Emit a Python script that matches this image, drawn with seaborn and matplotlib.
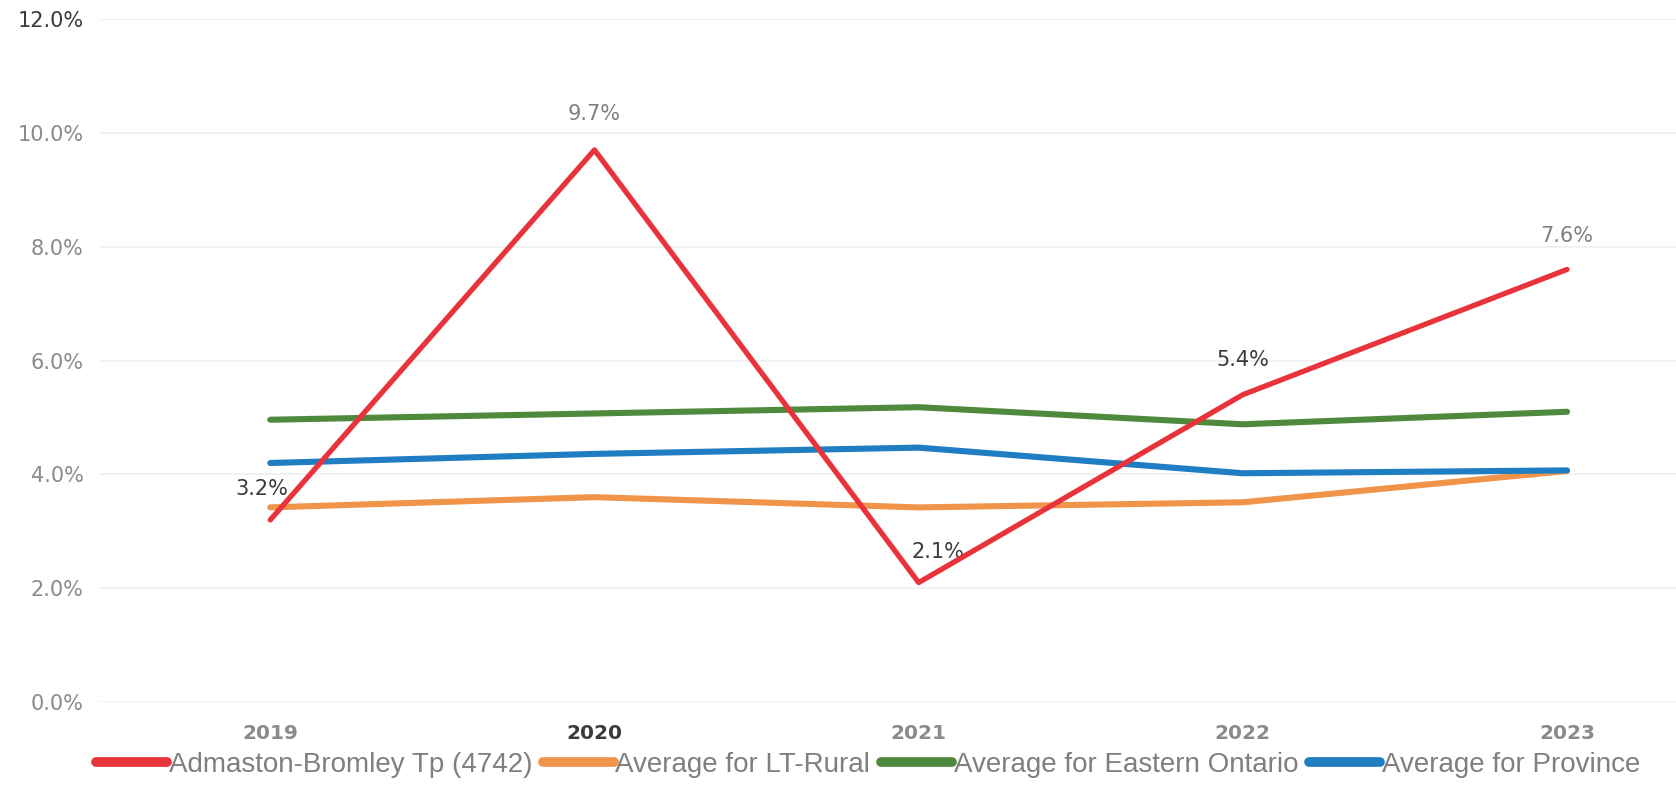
import matplotlib
matplotlib.use("Agg")
import matplotlib.pyplot as plt
import seaborn as sns
import pandas as pd

years = ["2019", "2020", "2021", "2022", "2023"]
admaston = [3.2, 9.7, 2.1, 5.4, 7.6]
lt_rural = [3.42, 3.60, 3.42, 3.51, 4.06]
eastern_ontario = [4.96, 5.07, 5.18, 4.88, 5.10]
province = [4.20, 4.36, 4.47, 4.02, 4.07]

series_names = [
    "Admaston-Bromley Tp (4742)",
    "Average for LT-Rural",
    "Average for Eastern Ontario",
    "Average for Province",
]
series_values = [admaston, lt_rural, eastern_ontario, province]
colors = ["#E8333A", "#F0944A", "#4F8A3C", "#1F7DC1"]
label_colors = ["#3a3a3a", "#808080", "#3a3a3a", "#3a3a3a", "#808080"]
label_offsets = [(-6, 22), (0, 26), (14, 22), (0, 25), (0, 24)]

rows = []
for name, vals in zip(series_names, series_values):
    for yr, v in zip(years, vals):
        rows.append({"Year": yr, "Value": v, "Series": name})
df = pd.DataFrame(rows)

sns.set_theme(style="white")
plt.rcParams["font.family"] = ["DejaVu Sans"]

fig = plt.figure(figsize=(16.76, 8.07), dpi=100)
ax = fig.add_axes([0.0597, 0.130, 0.9403, 0.8465])

sns.lineplot(
    data=df, x="Year", y="Value", hue="Series",
    palette=dict(zip(series_names, colors)),
    hue_order=series_names, linewidth=4.4, ax=ax, legend=True,
    sort=False,
)
# the municipality line sits on top, slightly thinner
for ln in ax.lines:
    if ln.get_color().lower() == colors[0].lower():
        ln.set_linewidth(3.8)
        ln.set_zorder(5)

ax.set_ylim(0, 12)
ax.set_xlim(-0.525, 4.336)
ax.set_yticks([0, 2, 4, 6, 8, 10, 12])
ax.set_yticklabels([f"{t:.1f}%" for t in [0, 2, 4, 6, 8, 10, 12]])
ax.yaxis.grid(True, color="#efefef", linewidth=1.2)
ax.xaxis.grid(False)
for s in ax.spines.values():
    s.set_visible(False)
ax.tick_params(axis="y", length=0, pad=12, labelsize=15, labelcolor="#8a8a8a")
ax.tick_params(axis="x", length=0, pad=16, labelsize=14.5, labelcolor="#8a8a8a")
for lab in ax.get_xticklabels():
    lab.set_fontweight("bold")
ax.get_yticklabels()[-1].set_color("#3a3a3a")
ax.get_xticklabels()[1].set_color("#3a3a3a")
ax.set_xlabel("")
ax.set_ylabel("")

for i, (yr, v) in enumerate(zip(years, admaston)):
    ax.annotate(f"{v:.1f}%", xy=(i, v), xytext=label_offsets[i],
                textcoords="offset points", ha="center", va="center",
                fontsize=15, color=label_colors[i])

handles, labels = ax.get_legend_handles_labels()
ax.legend_.remove()
for h in handles:
    h.set_linewidth(7)
fig.legend(handles, labels, loc="center", bbox_to_anchor=(0.518, 0.052),
           ncol=4, frameon=False, handlelength=2.55, handletextpad=0.05,
           columnspacing=0.4,
           prop={"family": ["Liberation Sans", "DejaVu Sans"], "size": 20},
           labelcolor="#7f7f7f")

fig.savefig("out.png", dpi=100, facecolor="white")
